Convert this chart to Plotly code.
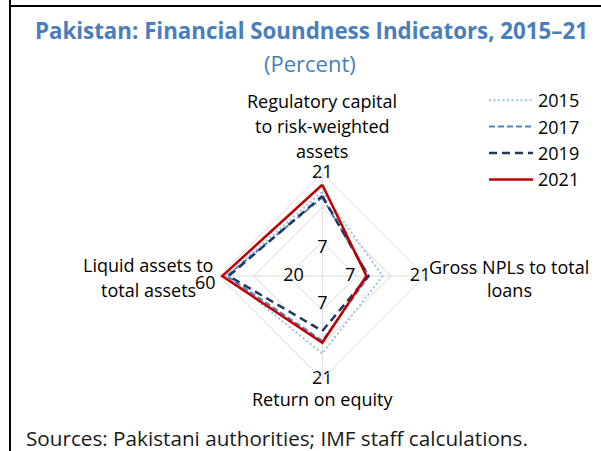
import plotly.graph_objects as go

# ---- data ----
categories = ["Regulatory capital to risk-weighted assets",
              "Gross NPLs to total loans",
              "Return on equity",
              "Liquid assets to total assets"]
axis_max = [21, 21, 21, 60]
years = ["2015", "2017", "2019", "2021"]
v2015 = [17.2, 12.3, 15.8, 55.8]
v2017 = [16.0, 9.5, 13.2, 55.7]
v2019 = [16.3, 9.4, 11.2, 54.5]
v2021 = [18.6, 9.0, 13.6, 58.3]
outer_ticks = ["21", "21", "21", "60"]
inner_ticks = ["7", "7", "7", "20"]
sources = "Sources: Pakistani authorities; IMF staff calculations."

W, H = 601, 451
def X(px): return px / W
def Y(py): return 1 - py / H

FONT = "Open Sans"
series = [v2015, v2017, v2019, v2021]
styles = [
    dict(color="#9dc3e6", width=2, dash="2px,2.5px"),
    dict(color="#4f81bd", width=2, dash="6px,3px"),
    dict(color="#203864", width=2.5, dash="8px,5px"),
    dict(color="#c00000", width=2.5, dash="solid"),
]

fig = go.Figure()
for name, vals, st in zip(years, series, styles):
    r = [v / m for v, m in zip(vals, axis_max)]
    fig.add_trace(go.Scatterpolar(
        r=r + [r[0]], theta=categories + [categories[0]],
        mode="lines", name=name, line=st, legendgroup=name,
        hoverinfo="skip"))

# axis value labels drawn on the polar scale (outer "60" placed as annotation below)
fig.add_trace(go.Scatterpolar(
    r=[1.0, 0.95, 1.0], theta=categories[:3], mode="text",
    text=outer_ticks[:3], textposition="middle center",
    textfont=dict(family=FONT, size=18, color="#000000"),
    showlegend=False, hoverinfo="skip", cliponaxis=False))
fig.add_trace(go.Scatterpolar(
    r=[0.27, 0.27, 0.28, 0.28], theta=categories, mode="text",
    text=inner_ticks, textposition="middle center",
    textfont=dict(family=FONT, size=18, color="#000000"),
    showlegend=False, hoverinfo="skip", cliponaxis=False))

cx, cy, R = 322.3, 276, 103
fig.update_layout(
    width=W, height=H,
    margin=dict(l=0, r=0, t=0, b=0),
    paper_bgcolor="white",
    showlegend=True,
    legend=dict(x=X(484), y=Y(82), xanchor="left", yanchor="top",
                font=dict(family=FONT, size=18, color="#000000"),
                bgcolor="rgba(0,0,0,0)", traceorder="grouped",
                tracegroupgap=0, itemwidth=44),
    polar=dict(
        domain=dict(x=[X(cx - R), X(cx + R)], y=[Y(cy + R), Y(cy - R)]),
        bgcolor="white",
        gridshape="linear",
        radialaxis=dict(range=[0, 1], tickvals=[1/3, 2/3, 1],
                        showticklabels=False, ticks="", showline=False,
                        gridcolor="#d9d9d9", gridwidth=1),
        angularaxis=dict(type="category", categoryarray=categories,
                         direction="clockwise", rotation=90,
                         showticklabels=False, ticks="",
                         showline=True, linecolor="#d9d9d9", linewidth=1,
                         gridcolor="#d9d9d9", gridwidth=1),
    ),
)

ann = []
ann.append(dict(x=X(311.5), y=Y(30), text="<b>Pakistan: Financial Soundness Indicators, 2015–21</b>",
                font=dict(family=FONT, size=22.3, color="#4a7ebb")))
ann.append(dict(x=X(310), y=Y(63), text="(Percent)",
                font=dict(family=FONT, size=22, color="#4a7ebb")))
label_lines = [
    (322, [101, 126, 151], ["Regulatory capital", "to risk-weighted", "assets"]),
    (509, [267, 290], ["Gross NPLs to total", "loans"]),
    (322, [399], ["Return on equity"]),
    (148, [265, 290], ["Liquid assets to", "total assets"]),
]
for xc, ys, lines in label_lines:
    for yy, t in zip(ys, lines):
        ann.append(dict(x=X(xc), y=Y(yy), text=t,
                        font=dict(family=FONT, size=18, color="#000000")))
ann.append(dict(x=X(205.5), y=Y(282), text=outer_ticks[3],
                font=dict(family=FONT, size=18, color="#000000")))
ann.append(dict(x=X(24), y=Y(438), text=sources, xanchor="left",
                font=dict(family=FONT, size=20.7, color="#1a1a1a")))
for a in ann:
    a.setdefault("xanchor", "center")
    a.update(xref="paper", yref="paper", yanchor="middle", showarrow=False)
fig.update_layout(annotations=ann)

fig.update_layout(shapes=[
    dict(type="line", xref="paper", yref="paper", x0=X(10), x1=X(10), y0=0, y1=1,
         line=dict(color="black", width=2)),
    dict(type="line", xref="paper", yref="paper", x0=X(9), x1=1, y0=Y(6), y1=Y(6),
         line=dict(color="black", width=2)),
])

fig.write_html("out.html", config={"displayModeBar": False},
               post_script="document.body.style.margin='0';document.body.style.overflow='hidden';")
